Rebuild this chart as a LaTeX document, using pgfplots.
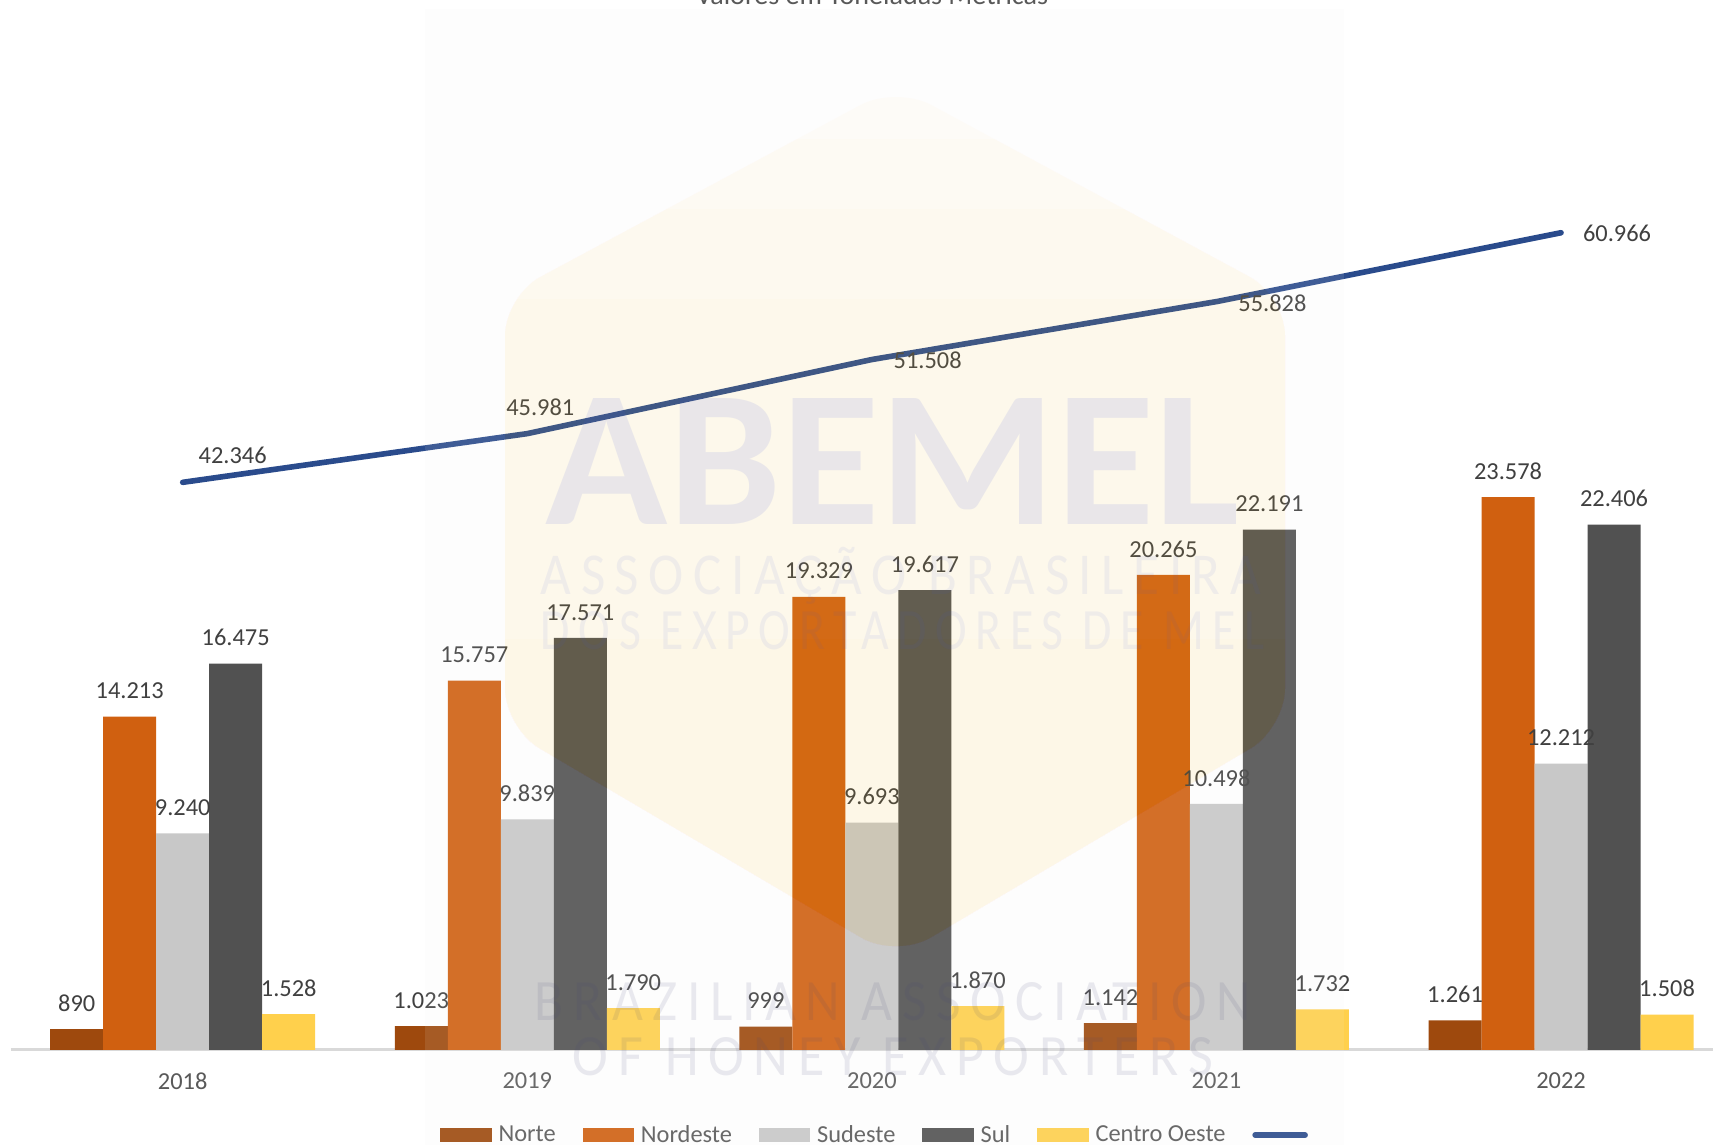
\documentclass[border=0pt]{standalone}
\usepackage{fontspec}
\usepackage{pgfplots}
\usepackage{pgfplotstable}
\pgfplotsset{compat=1.18}
\setmainfont{Carlito}
\newfontfamily\wmspaced[LetterSpace=18]{Carlito}
\definecolor{cNorte}{HTML}{9E490D}
\definecolor{cNordeste}{HTML}{D06010}
\definecolor{cSudeste}{HTML}{C8C8C8}
\definecolor{cSul}{HTML}{515151}
\definecolor{cCentro}{HTML}{FFD04C}
\definecolor{cLine}{HTML}{2A4B8C}
\definecolor{cText}{HTML}{404040}
\definecolor{cTick}{HTML}{595959}
\definecolor{hexS}{RGB}{0,1,4}
\definecolor{hexT}{RGB}{0,2,6}
\definecolor{wmTop}{RGB}{60,80,220}
\definecolor{wmLow}{RGB}{70,70,120}
\pgfplotstableread{
x y
0 890
1 1023
2 999
3 1142
4 1261
}\tNorte
\pgfplotstableread{
x y
0 14213
1 15757
2 19329
3 20265
4 23578
}\tNordeste
\pgfplotstableread{
x y
0 9240
1 9839
2 9693
3 10498
4 12212
}\tSudeste
\pgfplotstableread{
x y
0 16475
1 17571
2 19617
3 22191
4 22406
}\tSul
\pgfplotstableread{
x y
0 1528
1 1790
2 1870
3 1732
4 1508
}\tCentro
\pgfplotstableread{
x y dx dy
0 42346 25 13.6
1 45981 6.5 13
2 51508 27.9 -0.6
3 55828 28 -0.6
4 60966 28 -0.5
}\tTotal
\def\hexpath{(896,86) -- (1285,296) -- (1285,728) -- (896,958) -- (505,728) -- (505,296) -- cycle}
\newcommand\hexstep[1]{\begin{scope}\clip (400,#1) rectangle (1400,1000);\fill[hexS, rounded corners=20pt] \hexpath;\end{scope}}
\begin{document}
\begin{tikzpicture}
\path[use as bounding box] (0,0) rectangle (856.5pt,572.5pt);
\clip (0,0) rectangle (856.5pt,572.5pt);
\fill[white] (0,0) rectangle (856.5pt,572.5pt);
\begin{axis}[
  at={(5.5pt,47.5pt)}, anchor=south west,
  scale only axis, width=851pt, height=525pt,
  xmin=-0.4983, xmax=4.441, ymin=0, ymax=44780,
  axis x line=bottom, axis y line=none,
  axis line style={-, draw=black!15, line width=1.5pt},
  ybar=0pt, bar width=26.5pt,
  xtick={0,1,2,3,4}, xticklabels={2018,2019,2020,2021,2022},
  major tick length=0pt,
  xticklabel style={font=\fontsize{12.2}{14}\selectfont, text=cTick, anchor=center, yshift=-15.5pt},
  every node near coord/.append style={font=\fontsize{12.2}{14}\selectfont, text=cText, anchor=south, inner sep=0pt, yshift=8.6pt},
  nodes near coords={\pgfmathprintnumber[assume math mode=true,fixed,precision=0,1000 sep={.}]{\pgfplotspointmeta}},
  legend image code/.code={\fill[#1] (0pt,-3.5pt) rectangle (25.7pt,3.5pt);},
  legend columns=6,
  legend cell align=left,
  legend style={at={(0.5103,-0.081)}, anchor=center, draw=none, fill=none, inner sep=0pt, outer sep=0pt,
    font=\fontsize{12.2}{14}\selectfont, text=cTick,
    /tikz/every even column/.append style={column sep=11.4pt},
    /tikz/every odd column/.append style={column sep=1.5pt}},
]
\addplot[fill=cNorte, draw=none] table {\tNorte};
\addlegendentry{Norte}
\addplot[fill=cNordeste, draw=none] table {\tNordeste};
\addlegendentry{Nordeste}
\addplot[fill=cSudeste, draw=none] table {\tSudeste};
\addlegendentry{Sudeste}
\addplot[fill=cSul, draw=none] table {\tSul};
\addlegendentry{Sul}
\addplot[fill=cCentro, draw=none] table {\tCentro};
\addlegendentry{Centro Oeste}
\addlegendimage{legend image code/.code={\draw[line width=2.8pt, cLine, line cap=round] (1pt,0pt) -- (26pt,0pt);}}
\addlegendentry{}
\end{axis}
\begin{axis}[
  at={(5.5pt,47.5pt)}, anchor=south west,
  scale only axis, width=851pt, height=525pt,
  xmin=-0.4983, xmax=4.441, ymin=0, ymax=78330,
  hide axis,
]
\addplot[cLine, line width=2.8pt, line cap=round, line join=round, mark=none,
  visualization depends on={\thisrow{dx}\as\shiftx},
  visualization depends on={\thisrow{dy}\as\shifty},
  nodes near coords={\pgfmathprintnumber[assume math mode=true,fixed,precision=0,1000 sep={.}]{\pgfplotspointmeta}},
  nodes near coords style={font=\fontsize{12.2}{14}\selectfont, text=cText, anchor=center, inner sep=0pt, xshift=\shiftx pt, yshift=\shifty pt},
  ] table[x=x,y=y] {\tTotal};
\end{axis}
% pale watermark laid over the chart
\begin{scope}[x=0.5pt,y=-0.5pt,yshift=572.5pt]
  \fill[black!7, opacity=0.11] (425,9) rectangle (1344,1145);
  \begin{scope}[blend mode=difference]
    \fill[hexT, rounded corners=20pt] \hexpath;
    \hexstep{140}
    \hexstep{210}
    \hexstep{300}
    \hexstep{640}
  \end{scope}
  \begin{scope}[text=wmTop, text opacity=0.10, inner sep=0pt]
    \node[anchor=base] at (893,525) {\resizebox{347pt}{63pt}{\textbf{ABEMEL}}};
  \end{scope}
  \begin{scope}[text=wmTop, text opacity=0.07, inner sep=0pt]
    \node[anchor=base] at (901,595) {\scalebox{1}[1.12]{\resizebox{360pt}{!}{\wmspaced ASSOCIAÇÃO BRASILEIRA}}};
    \node[anchor=base] at (903,650) {\resizebox{362pt}{19pt}{\wmspaced DOS EXPORTADORES DE MEL}};
  \end{scope}
  \begin{scope}[text=wmLow, text opacity=0.11, inner sep=0pt]
    \node[anchor=base] at (893,1021) {\resizebox{358pt}{19pt}{\wmspaced BRAZILIAN ASSOCIATION}};
    \node[anchor=base] at (893,1076) {\resizebox{320pt}{19pt}{\wmspaced OF HONEY EXPORTERS}};
  \end{scope}
  \node[anchor=base, inner sep=0pt, text=cTick] at (872,4.5) {\resizebox{176pt}{!}{Valores em Toneladas Métricas}};
\end{scope}
\end{tikzpicture}
\end{document}
